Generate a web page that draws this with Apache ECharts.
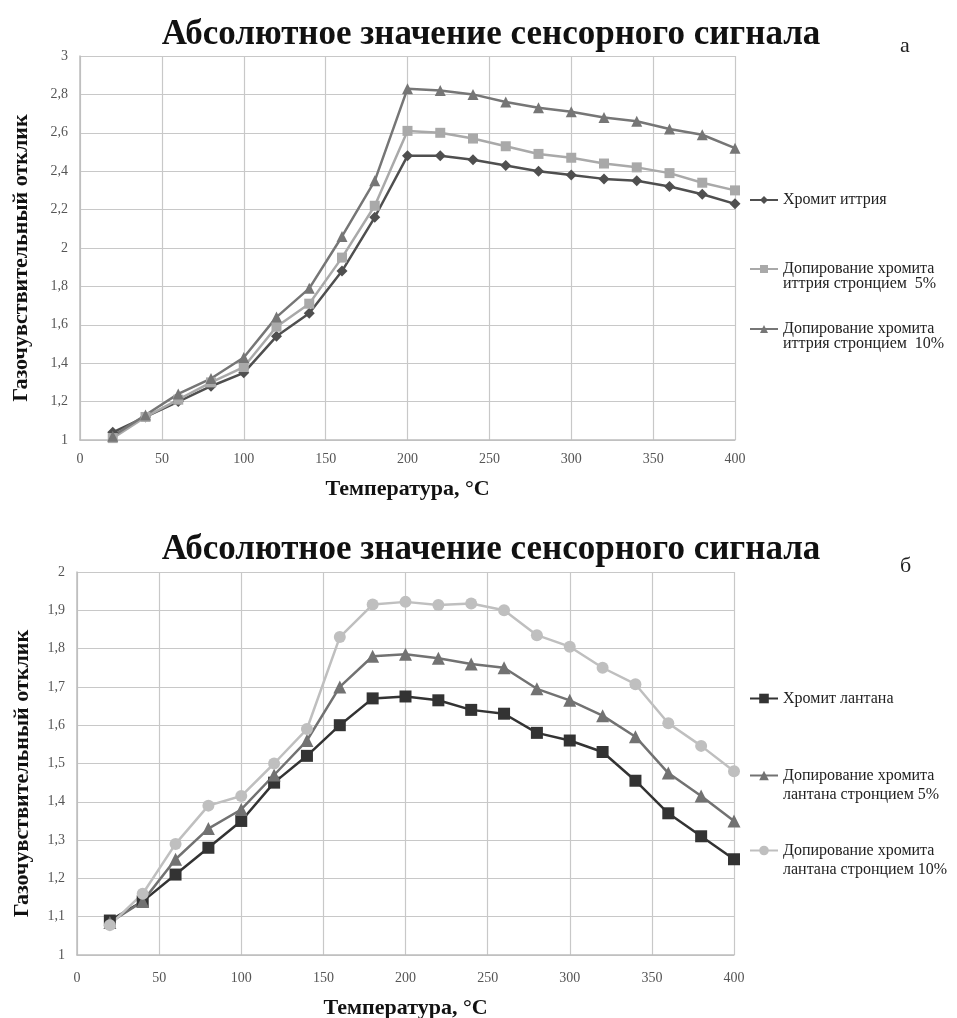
<!DOCTYPE html>
<html>
<head>
<meta charset="utf-8">
<script src="https://cdn.jsdelivr.net/npm/echarts@6/dist/echarts.min.js"></script>
<style>
  html, body { margin: 0; padding: 0; background: #fff; }
  #chart { width: 957px; height: 1018px; }
</style>
</head>
<body>
<div id="chart"></div>
<script>
// температуры, °C
const temps = [20, 40, 60, 80, 100, 120, 140, 160, 180, 200, 220, 240, 260, 280, 300, 320, 340, 360, 380, 400];

// (а) хромит иттрия
const yttrium = [1.04, 1.12, 1.20, 1.28, 1.35, 1.54, 1.66, 1.88, 2.16, 2.48, 2.48, 2.46, 2.43, 2.40, 2.38, 2.36, 2.35, 2.32, 2.28, 2.23];
const yttrium5 = [1.01, 1.12, 1.21, 1.30, 1.38, 1.59, 1.71, 1.95, 2.22, 2.61, 2.60, 2.57, 2.53, 2.49, 2.47, 2.44, 2.42, 2.39, 2.34, 2.30];
const yttrium10 = [1.02, 1.13, 1.24, 1.32, 1.43, 1.64, 1.79, 2.06, 2.35, 2.83, 2.82, 2.80, 2.76, 2.73, 2.71, 2.68, 2.66, 2.62, 2.59, 2.52];

// (б) хромит лантана
const lanthanum = [1.09, 1.14, 1.21, 1.28, 1.35, 1.45, 1.52, 1.60, 1.67, 1.675, 1.665, 1.64, 1.63, 1.58, 1.56, 1.53, 1.455, 1.37, 1.31, 1.25];
const lanthanum5 = [1.085, 1.14, 1.25, 1.33, 1.38, 1.47, 1.56, 1.70, 1.78, 1.785, 1.775, 1.76, 1.75, 1.695, 1.665, 1.625, 1.57, 1.475, 1.415, 1.35];
const lanthanum10 = [1.078, 1.16, 1.29, 1.39, 1.415, 1.50, 1.59, 1.83, 1.915, 1.922, 1.914, 1.918, 1.90, 1.835, 1.805, 1.75, 1.707, 1.605, 1.546, 1.48];

const xTicks = [0, 50, 100, 150, 200, 250, 300, 350, 400];

const names = [
  "Хромит иттрия",
  "Допирование хромита\nиттрия стронцием  5%",
  "Допирование хромита\nиттрия стронцием  10%",
  "Хромит лантана",
  "Допирование хромита\nлантана стронцием 5%",
  "Допирование хромита\nлантана стронцием 10%"
];

const serif = "Liberation Serif";
const pairs = (vals) => temps.map((t, i) => [t, vals[i]]);
const comma = (v) => String(Math.round(v * 10) / 10).replace(".", ",");

const chart = echarts.init(document.getElementById("chart"));

const xAxis = (gridIndex, gap, nameGap) => ({
  type: "value",
  gridIndex,
  min: xTicks[0],
  max: xTicks[xTicks.length - 1],
  interval: 50,
  name: "Температура, °С",
  nameLocation: "middle",
  nameGap,
  nameTextStyle: { fontFamily: serif, fontWeight: "bold", fontSize: 22, color: "#111" },
  axisLine: { lineStyle: { color: "#bdbdbd", width: 1.5 } },
  axisTick: { show: false },
  axisLabel: { fontFamily: serif, fontSize: 14, color: "#555", margin: gap },
  splitLine: { lineStyle: { color: "#c8c8c8", width: 1.2 } }
});

const yAxis = (gridIndex, max, interval, nameGap) => ({
  type: "value",
  gridIndex,
  min: 1,
  max,
  interval,
  name: "Газочувствительный отклик",
  nameLocation: "middle",
  nameGap,
  // extra right padding nudges the rotated name a little downwards
  nameTextStyle: { fontFamily: serif, fontWeight: "bold", fontSize: 22, color: "#111", padding: [0, 20, 0, 0] },
  axisLine: { show: true, lineStyle: { color: "#bdbdbd", width: 1.5 } },
  axisTick: { show: false },
  axisLabel: { fontFamily: serif, fontSize: 14, color: "#555", margin: 12, formatter: comma },
  splitLine: { lineStyle: { color: "#c8c8c8", width: 1.2 } }
});

const line = (name, vals, axis, symbol, size, color) => ({
  name,
  type: "line",
  xAxisIndex: axis,
  yAxisIndex: axis,
  data: pairs(vals),
  symbol,
  symbolSize: size,
  itemStyle: { color },
  lineStyle: { color, width: 2.5 },
  z: 3
});

// one legend per entry so each can sit at its own height
const legendItem = (name, top, lh, size) => ({
  data: [name],
  orient: "vertical",
  left: 749,
  top,
  padding: 0,
  itemWidth: 28,
  itemHeight: size,
  itemGap: 0,
  selectedMode: false,
  formatter: (n) => (n.indexOf("\n") >= 0 ? "\n" + n : n),
  textStyle: { fontFamily: serif, fontSize: 16, lineHeight: lh, color: "#222" }
});

const titleText = "Абсолютное значение сенсорного сигнала";

chart.setOption({
  animation: false,
  backgroundColor: "#fff",
  title: [
    { text: titleText, left: 486, top: 12, textAlign: "center",
      textStyle: { fontFamily: serif, fontWeight: "bold", fontSize: 35, color: "#111" } },
    { text: titleText, left: 486, top: 527, textAlign: "center",
      textStyle: { fontFamily: serif, fontWeight: "bold", fontSize: 35, color: "#111" } },
    { text: "а", left: 895, top: 30, textStyle: { fontFamily: serif, fontWeight: "normal", fontSize: 22, color: "#222" } },
    { text: "б", left: 895, top: 550, textStyle: { fontFamily: serif, fontWeight: "normal", fontSize: 22, color: "#222" } }
  ],
  grid: [
    { left: 80, top: 56, width: 655, height: 384, outerBoundsMode: "none" },
    { left: 77, top: 572, width: 657, height: 383, outerBoundsMode: "none" }
  ],
  xAxis: [xAxis(0, 12, 38), xAxis(1, 16, 42)],
  yAxis: [yAxis(0, 3, 0.2, 48), yAxis(1, 2, 0.1, 44)],
  legend: [
    legendItem(names[0], 192, 15, 10),
    legendItem(names[1], 246, 15, 10),
    legendItem(names[2], 306, 15, 10),
    legendItem(names[3], 689, 19, 12),
    legendItem(names[4], 747, 19, 12),
    legendItem(names[5], 822, 19, 12)
  ],
  series: [
    line(names[0], yttrium, 0, "diamond", 11, "#4f4f4f"),
    line(names[1], yttrium5, 0, "rect", 10, "#a9a9a9"),
    line(names[2], yttrium10, 0, "triangle", 11, "#767676"),
    line(names[3], lanthanum, 1, "rect", 12, "#333333"),
    line(names[4], lanthanum5, 1, "triangle", 13, "#727272"),
    line(names[5], lanthanum10, 1, "circle", 12, "#bfbfbf")
  ]
});
</script>
</body>
</html>
